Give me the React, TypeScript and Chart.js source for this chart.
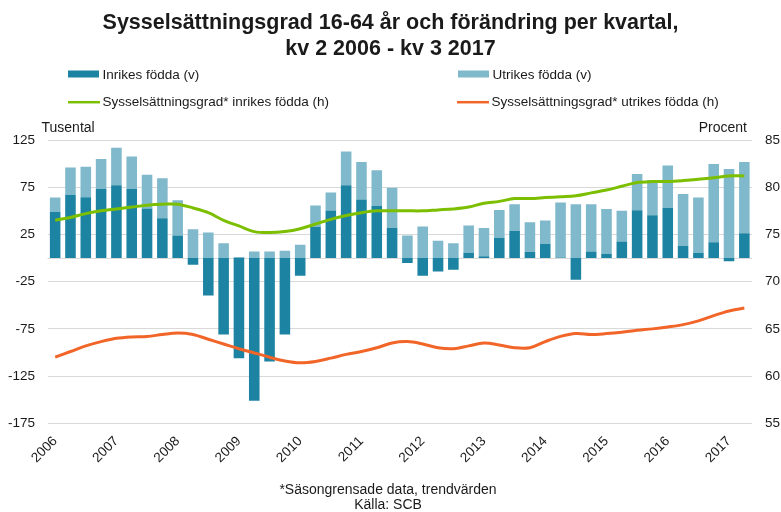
import { useEffect, useRef } from 'react';
import { Chart, registerables } from 'chart.js';

Chart.register(...registerables);

const FONT = '"Liberation Sans", Arial, sans-serif';

const quarters = [
  '2006K2', '2006K3', '2006K4',
  '2007K1', '2007K2', '2007K3', '2007K4',
  '2008K1', '2008K2', '2008K3', '2008K4',
  '2009K1', '2009K2', '2009K3', '2009K4',
  '2010K1', '2010K2', '2010K3', '2010K4',
  '2011K1', '2011K2', '2011K3', '2011K4',
  '2012K1', '2012K2', '2012K3', '2012K4',
  '2013K1', '2013K2', '2013K3', '2013K4',
  '2014K1', '2014K2', '2014K3', '2014K4',
  '2015K1', '2015K2', '2015K3', '2015K4',
  '2016K1', '2016K2', '2016K3', '2016K4',
  '2017K1', '2017K2', '2017K3',
];

// Förändring, tusental (vänster axel)
const inrikesFodda = [
  48.9, 66.7, 64.5, 73, 77, 73, 52.5, 42.2, 23.8, -7, -39.7, -81, -106, -151, -109.6,
  -81, -18.8, 33, 50.4, 77, 62, 55, 32, -5.3, -18.8, -14.2, -12.4, 5.7, 1.8, 21.6,
  28.7, 6.4, 15.2, 0.7, -23, 7, 4.6, 17.4, 50.7, 45.4, 53.2, 12.8, 5.7, 16.7, -3.5, 26.2,
];
const utrikesFodda = [
  15.1, 29.3, 32.3, 32, 39.7, 34.4, 35.8, 42.2, 37.5, 30.5, 27, 15.6, 1, 7, 7,
  7.8, 14, 22.7, 19.1, 35.8, 39.8, 38, 42.5, 23.8, 33.3, 18.4, 15.6, 28.7, 30.1, 29.4,
  28.3, 31.6, 24.5, 58.2, 57, 50, 47.4, 32.6, 38.3, 37.2, 44.7, 54.9, 58.3, 82.9, 94.3, 75.6,
];

// Sysselsättningsgrad, procent (höger axel)
const gradInrikes = [
  76.5, 76.8, 77.2, 77.5, 77.7, 77.9, 78.1, 78.2, 78.2, 77.8, 77.3, 76.5, 75.9, 75.3, 75.2,
  75.3, 75.6, 76.1, 76.6, 77.0, 77.3, 77.5, 77.5, 77.5, 77.5, 77.6, 77.7, 77.9, 78.3, 78.5,
  78.8, 78.8, 78.9, 79.0, 79.1, 79.4, 79.7, 80.1, 80.5, 80.6, 80.6, 80.7, 80.85, 81.0, 81.2, 81.2,
];
const gradUtrikes = [
  62.0, 62.6, 63.2, 63.65, 64.0, 64.15, 64.2, 64.4, 64.55, 64.4, 63.9, 63.4, 62.9, 62.45, 62.0,
  61.6, 61.4, 61.55, 61.9, 62.3, 62.6, 63.0, 63.5, 63.65, 63.4, 63.0, 62.9, 63.2, 63.5, 63.3,
  63.0, 63.0, 63.65, 64.2, 64.5, 64.4, 64.5, 64.65, 64.85, 65.0, 65.2, 65.45, 65.85, 66.4, 66.9, 67.2,
];

const titleLines = ['Sysselsättningsgrad 16-64 år och förändring per kvartal,', 'kv 2 2006 - kv 3 2017'];
const footLines = ['*Säsongrensade data, trendvärden', 'Källa: SCB'];

const C_INR = '#1c83a2';
const C_UTR = '#80b9cb';
const C_GREEN = '#7cbf00';
const C_ORANGE = '#f26528';
const GRID = '#d9d9d9';
const TEXT = '#1a1a1a';

const legendItems = [
  { label: 'Inrikes födda (v)', color: C_INR, type: 'box', x: 68, y: 79 },
  { label: 'Utrikes födda (v)', color: C_UTR, type: 'box', x: 458, y: 79 },
  { label: 'Sysselsättningsgrad* inrikes födda (h)', color: C_GREEN, type: 'line', x: 68, y: 106 },
  { label: 'Sysselsättningsgrad* utrikes födda (h)', color: C_ORANGE, type: 'line', x: 457, y: 106 },
];

const decorPlugin = {
  id: 'decor',
  beforeDatasetsDraw(chart: any) {
    const { ctx, chartArea, scales } = chart;
    const y0 = Math.round(scales.y.getPixelForValue(0)) + 0.5;
    ctx.save();
    ctx.strokeStyle = GRID;
    ctx.lineWidth = 1;
    ctx.beginPath();
    ctx.moveTo(chartArea.left, y0);
    ctx.lineTo(chartArea.right, y0);
    ctx.stroke();
    ctx.restore();
  },
  afterDraw(chart: any) {
    const { ctx } = chart;
    ctx.save();
    ctx.fillStyle = TEXT;
    ctx.textBaseline = 'alphabetic';
    // title
    ctx.font = `bold 21.5px ${FONT}`;
    ctx.textAlign = 'center';
    ctx.fillText(titleLines[0], 390.5, 28.5);
    ctx.fillText(titleLines[1], 390.5, 54.5);
    // legend
    ctx.font = `13.5px ${FONT}`;
    ctx.textAlign = 'left';
    legendItems.forEach((it) => {
      if (it.type === 'box') {
        ctx.fillStyle = it.color;
        ctx.fillRect(it.x, it.y - 8.5, 31, 7);
      } else {
        ctx.strokeStyle = it.color;
        ctx.lineWidth = 2.5;
        ctx.beginPath();
        ctx.moveTo(it.x, it.y - 3.8);
        ctx.lineTo(it.x + 32, it.y - 3.8);
        ctx.stroke();
      }
      ctx.fillStyle = TEXT;
      ctx.fillText(it.label, it.x + 34.5, it.y);
    });
    // axis titles
    ctx.font = `14px ${FONT}`;
    ctx.textAlign = 'left';
    ctx.fillText('Tusental', 41.5, 131.5);
    ctx.textAlign = 'right';
    ctx.fillText('Procent', 747, 131.5);
    // footnote
    ctx.textAlign = 'center';
    ctx.fillText(footLines[0], 388, 494);
    ctx.fillText(footLines[1], 388, 508.5);
    ctx.restore();
  },
};

export default function App() {
  const ref = useRef<HTMLCanvasElement>(null);

  useEffect(() => {
    if (!ref.current) return;
    const chart = new Chart(ref.current, {
      type: 'bar',
      data: {
        labels: quarters,
        datasets: [
          {
            type: 'bar',
            label: 'Inrikes födda (v)',
            data: inrikesFodda,
            backgroundColor: C_INR,
            yAxisID: 'y',
            order: 2,
            barPercentage: 0.69,
            categoryPercentage: 1,
          },
          {
            type: 'bar',
            label: 'Utrikes födda (v)',
            data: utrikesFodda,
            backgroundColor: C_UTR,
            yAxisID: 'y',
            order: 2,
            barPercentage: 0.69,
            categoryPercentage: 1,
          },
          {
            type: 'line',
            label: 'Sysselsättningsgrad* inrikes födda (h)',
            data: gradInrikes,
            borderColor: C_GREEN,
            backgroundColor: C_GREEN,
            borderWidth: 3,
            pointRadius: 0,
            tension: 0.35,
            yAxisID: 'y1',
            order: 0,
          },
          {
            type: 'line',
            label: 'Sysselsättningsgrad* utrikes födda (h)',
            data: gradUtrikes,
            borderColor: C_ORANGE,
            backgroundColor: C_ORANGE,
            borderWidth: 3,
            pointRadius: 0,
            tension: 0.35,
            yAxisID: 'y1',
            order: 1,
          },
        ] as any,
      },
      options: {
        responsive: false,
        animation: false,
        layout: { padding: { top: 140, bottom: 38.7, left: 0, right: 0 } },
        plugins: {
          legend: { display: false },
          title: { display: false },
          tooltip: { enabled: false },
        },
        scales: {
          x: {
            stacked: true,
            offset: true,
            grid: { display: false, drawTicks: false },
            border: { display: false },
            ticks: {
              autoSkip: false,
              minRotation: 45,
              maxRotation: 45,
              padding: 10,
              color: TEXT,
              font: { family: FONT, size: 13.5 },
              callback: (_v: any, i: number) => (i % 4 === 0 ? quarters[i].slice(0, 4) : ''),
            },
            afterFit: (s: any) => {
              s.height = 50;
            },
          },
          y: {
            position: 'left',
            stacked: true,
            min: -175,
            max: 125,
            ticks: { stepSize: 50, padding: 12.5, color: TEXT, font: { family: FONT, size: 13.5 } },
            grid: { color: GRID, drawTicks: false, lineWidth: 1 },
            border: { display: false },
            afterFit: (s: any) => {
              s.width = 47.5;
            },
          },
          y1: {
            position: 'right',
            stacked: false,
            min: 55,
            max: 85,
            ticks: { stepSize: 5, padding: 13, color: TEXT, font: { family: FONT, size: 13.5 } },
            grid: { display: false, drawTicks: false },
            border: { display: false },
            afterFit: (s: any) => {
              s.width = 29;
            },
          },
        },
      } as any,
      plugins: [decorPlugin],
    });
    return () => chart.destroy();
  }, []);

  return (
    <div style={{ position: 'absolute', left: 0, top: 0, width: 781, height: 512, background: '#fff' }}>
      <canvas ref={ref} width={781} height={512} style={{ display: 'block' }} />
    </div>
  );
}
